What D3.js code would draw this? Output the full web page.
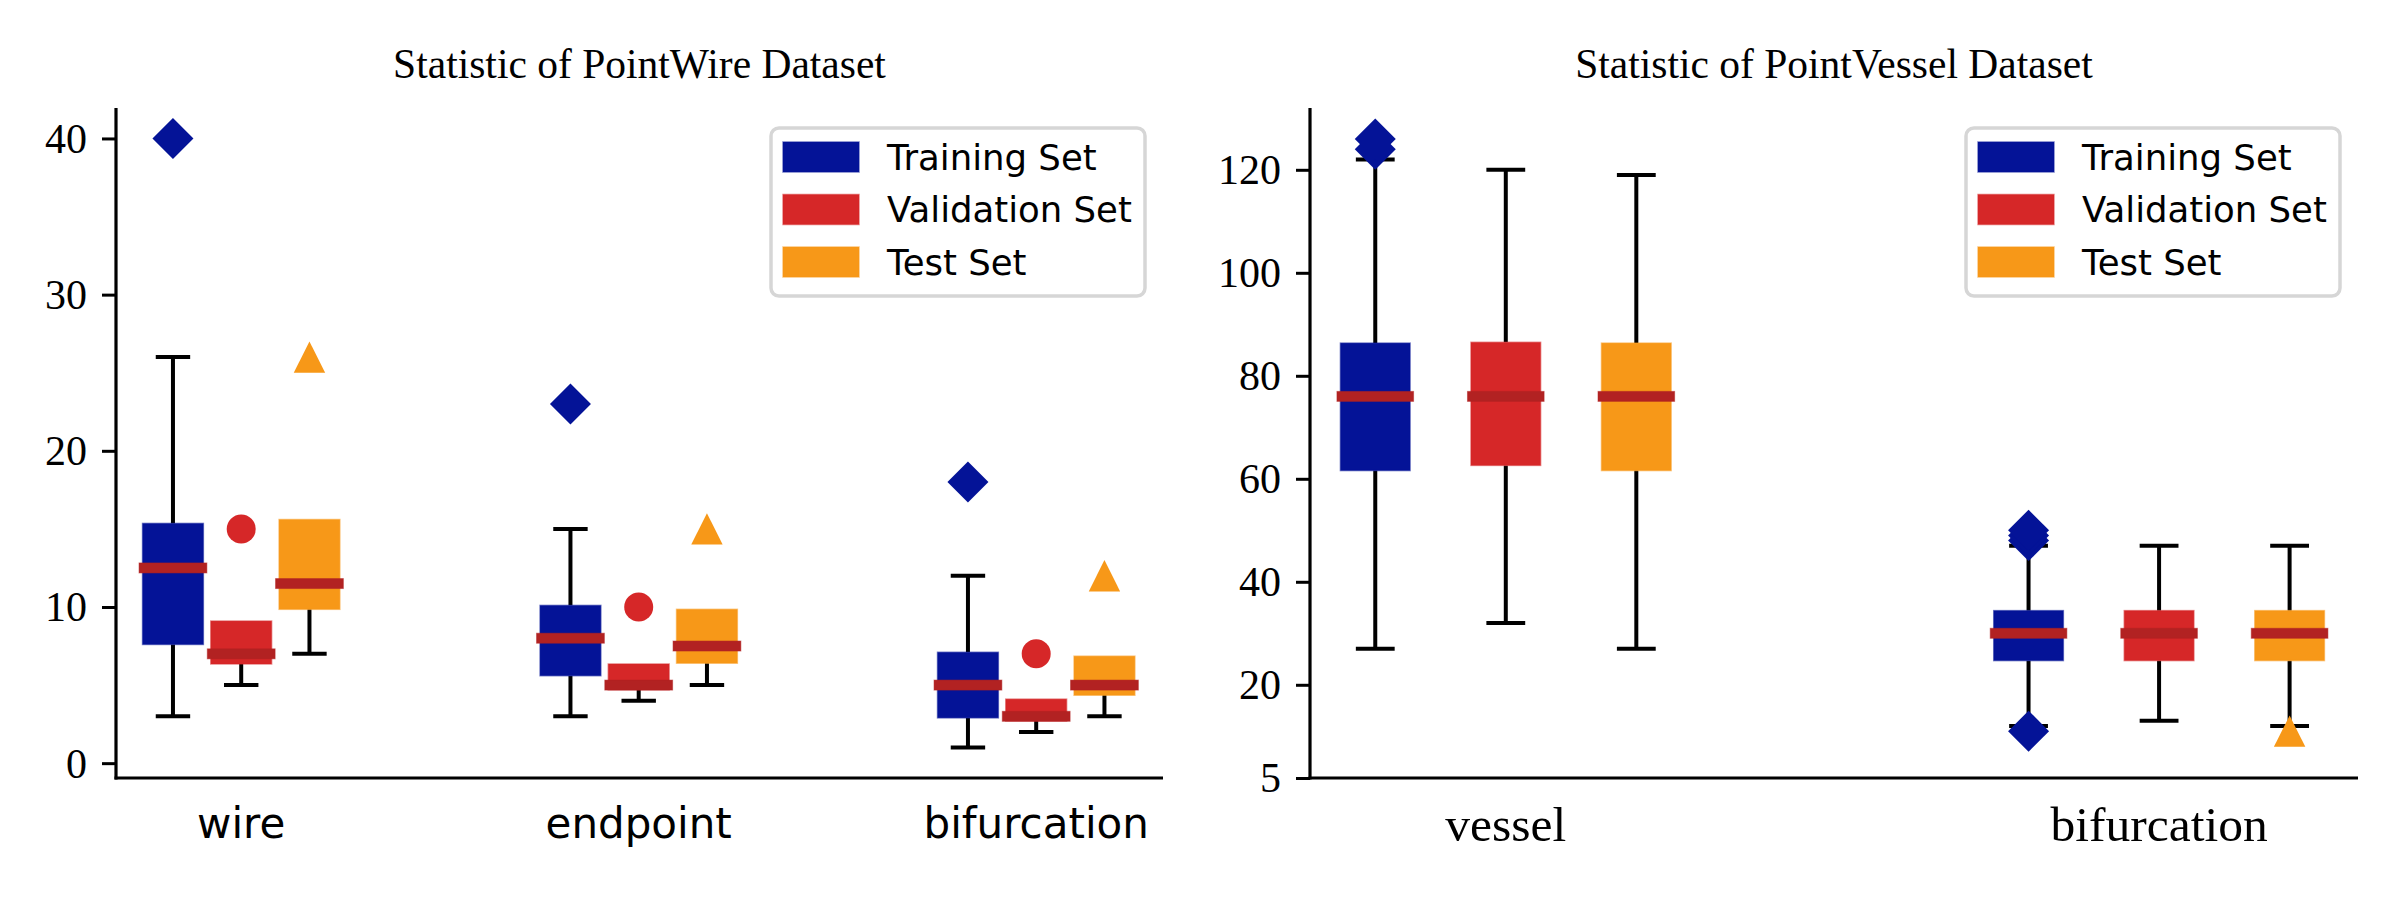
<!DOCTYPE html>
<html>
<head>
<meta charset="utf-8">
<script src="https://cdn.jsdelivr.net/npm/d3@7"></script>
<style>
  html, body { margin: 0; padding: 0; background: #fff; }
  svg { display: block; }
</style>
</head>
<body>
<svg id="chart" width="2400" height="900"></svg>
<script>
// ---------------- DATA ----------------
const seriesNames = ["Training Set", "Validation Set", "Test Set"];

// PointWire dataset: stats = [lowerWhisker, Q1, median, Q3, upperWhisker]
const wireCategories = ["wire", "endpoint", "bifurcation"];
const wireTrainStats = [[3, 7.6, 12.5, 15.35, 26], [3, 5.6, 8, 10.1, 15], [1, 2.9, 5, 7.1, 12]];
const wireValStats   = [[5, 6.35, 7, 9.1, 9.1], [4, 4.7, 5, 6.35, 6.35], [2, 2.7, 3, 4.1, 4.1]];
const wireTestStats  = [[7, 9.85, 11.5, 15.6, 15.6], [5, 6.4, 7.5, 9.85, 9.85], [3, 4.35, 5, 6.85, 6.85]];
const wireTrainOutliers = [[40], [23], [18]];
const wireValOutliers   = [[15], [10], [7]];
const wireTestOutliers  = [[26], [15], [12]];
const wireTickValues = [0, 10, 20, 30, 40];
const wireTickLabels = ["0", "10", "20", "30", "40"];
const wireDomain = [-0.95, 41.95];

// PointVessel dataset
const vesselCategories = ["vessel", "bifurcation"];
const vesselTrainStats = [[27, 61.6, 76, 86.35, 122], [12, 24.7, 30, 34.4, 47]];
const vesselValStats   = [[32, 62.6, 76, 86.5, 120], [13, 24.7, 30, 34.4, 47]];
const vesselTestStats  = [[27, 61.6, 76, 86.35, 119], [12, 24.7, 30, 34.4, 47]];
const vesselTrainOutliers = [[124, 126], [11, 48, 49, 50]];
const vesselValOutliers   = [[], []];
const vesselTestOutliers  = [[], [11]];
const vesselTickValues = [1.9, 20, 40, 60, 80, 100, 120];
const vesselTickLabels = ["5", "20", "40", "60", "80", "100", "120"];
const vesselDomain = [1.9, 132];

// ---------------- STYLE ----------------
const colors = ["#041397", "#d62728", "#f79818"];
const medianColor = "#b22222";
const markerTypes = ["diamond", "circle", "triangle"];
const serif = "'Liberation Serif', 'Times New Roman', serif";
const sans = "'DejaVu Sans', sans-serif";

const svg = d3.select("#chart");
svg.append("rect").attr("width", 2400).attr("height", 900).attr("fill", "#fff");

function drawPanel(cfg) {
  const g = svg.append("g");
  const y = d3.scaleLinear().domain(cfg.yDomain).range([cfg.bottom, cfg.top]);
  const x = d3.scaleLinear().domain(cfg.xDomain).range([cfg.left, cfg.right]);
  const groupPos = cfg.categories.map((c, i) => i);
  const series = [
    {stats: cfg.train, out: cfg.trainOut},
    {stats: cfg.val, out: cfg.valOut},
    {stats: cfg.test, out: cfg.testOut}
  ];
  const unit = x(1) - x(0);
  const bw = cfg.boxW * unit;
  const capW = bw * 0.5 + 4;

  // title
  g.append("text").attr("x", (cfg.left + cfg.right) / 2).attr("y", 78)
    .attr("text-anchor", "middle").attr("font-family", serif).attr("font-size", 41.5)
    .attr("fill", "#000").text(cfg.title);

  series.forEach((s, si) => {
    s.stats.forEach((st, ci) => {
      const cx = x(groupPos[ci] + (si - 1) * cfg.offset);
      const [lo, q1, med, q3, hi] = st;
      const wg = g.append("g");
      // whiskers
      if (lo < q1) {
        wg.append("line").attr("x1", cx).attr("x2", cx).attr("y1", y(q1)).attr("y2", y(lo))
          .attr("stroke", "#000").attr("stroke-width", 4);
        wg.append("line").attr("x1", cx - capW / 2).attr("x2", cx + capW / 2).attr("y1", y(lo)).attr("y2", y(lo))
          .attr("stroke", "#000").attr("stroke-width", 4);
      }
      if (hi > q3) {
        wg.append("line").attr("x1", cx).attr("x2", cx).attr("y1", y(q3)).attr("y2", y(hi))
          .attr("stroke", "#000").attr("stroke-width", 4);
        wg.append("line").attr("x1", cx - capW / 2).attr("x2", cx + capW / 2).attr("y1", y(hi)).attr("y2", y(hi))
          .attr("stroke", "#000").attr("stroke-width", 4);
      }
      // box
      g.append("rect").attr("x", cx - bw / 2).attr("y", y(q3)).attr("width", bw).attr("height", y(q1) - y(q3))
        .attr("fill", colors[si]).attr("stroke", colors[si]).attr("stroke-opacity", 0.55).attr("stroke-width", 1.5);
      // median
      g.append("rect").attr("x", cx - bw / 2 - 3.5).attr("y", y(med) - 5).attr("width", bw + 7).attr("height", 10)
        .attr("fill", medianColor).attr("stroke", medianColor).attr("stroke-opacity", 0.5).attr("stroke-width", 1);
      // outliers
      s.out[ci].forEach(v => {
        const py = y(v);
        if (markerTypes[si] === "diamond") {
          g.append("path").attr("d", `M${cx},${py - 20.5}L${cx + 20.5},${py}L${cx},${py + 20.5}L${cx - 20.5},${py}Z`)
            .attr("fill", colors[si]);
        } else if (markerTypes[si] === "circle") {
          g.append("circle").attr("cx", cx).attr("cy", py).attr("r", 14.5).attr("fill", colors[si]);
        } else {
          g.append("path").attr("d", `M${cx},${py - 15.7}L${cx + 15.7},${py + 15.7}L${cx - 15.7},${py + 15.7}Z`)
            .attr("fill", colors[si]);
        }
      });
    });
  });

  // category labels
  cfg.categories.forEach((c, i) => {
    g.append("text").attr("x", x(i)).attr("y", cfg.labelY).attr("text-anchor", "middle")
      .attr("font-family", cfg.labelFont).attr("font-size", cfg.labelSize).attr("fill", "#000").text(c);
  });

  // y axis
  const ya = g.append("g").attr("transform", `translate(${cfg.left},0)`)
    .call(d3.axisLeft(y).tickValues(cfg.tickValues).tickFormat((d, i) => cfg.tickLabels[i]).tickSize(14).tickPadding(15));
  ya.select(".domain").remove();
  ya.selectAll(".tick line").attr("stroke", "#000").attr("stroke-width", 3);
  ya.selectAll(".tick text").attr("font-family", serif).attr("font-size", 42).attr("fill", "#000").attr("dy", "0.33em");
  // spines
  g.append("line").attr("x1", cfg.left).attr("x2", cfg.left).attr("y1", cfg.top).attr("y2", cfg.bottom + 1.5)
    .attr("stroke", "#000").attr("stroke-width", 3.2);
  g.append("line").attr("x1", cfg.left - 1.5).attr("x2", cfg.right).attr("y1", cfg.bottom).attr("y2", cfg.bottom)
    .attr("stroke", "#000").attr("stroke-width", 3.2);

  // legend
  const lg = g.append("g");
  lg.append("rect").attr("x", cfg.legX).attr("y", 128).attr("width", 374).attr("height", 168).attr("rx", 8)
    .attr("fill", "#fff").attr("fill-opacity", 0.8).attr("stroke", "#d6d6d6").attr("stroke-width", 3.5);
  seriesNames.forEach((n, i) => {
    const cy = 157 + i * 52.5;
    lg.append("rect").attr("x", cfg.legX + 12).attr("y", cy - 15).attr("width", 76).attr("height", 30)
      .attr("fill", colors[i]).attr("stroke", colors[i]).attr("stroke-opacity", 0.55).attr("stroke-width", 1.5);
    lg.append("text").attr("x", cfg.legX + 116).attr("y", cy).attr("dy", "0.36em")
      .attr("font-family", sans).attr("font-size", 35.5).attr("fill", "#000").text(n);
  });
}

drawPanel({
  title: "Statistic of PointWire Dataset",
  categories: wireCategories,
  train: wireTrainStats, val: wireValStats, test: wireTestStats,
  trainOut: wireTrainOutliers, valOut: wireValOutliers, testOut: wireTestOutliers,
  yDomain: wireDomain, tickValues: wireTickValues, tickLabels: wireTickLabels,
  xDomain: [-0.315, 2.319],
  left: 116, right: 1163, top: 108, bottom: 778,
  offset: 0.1717, boxW: 0.153,
  labelY: 838, labelFont: sans, labelSize: 42,
  legX: 771
});

drawPanel({
  title: "Statistic of PointVessel Dataset",
  categories: vesselCategories,
  train: vesselTrainStats, val: vesselValStats, test: vesselTestStats,
  trainOut: vesselTrainOutliers, valOut: vesselValOutliers, testOut: vesselTestOutliers,
  yDomain: vesselDomain, tickValues: vesselTickValues, tickLabels: vesselTickLabels,
  xDomain: [-0.2997, 1.3045],
  left: 1310, right: 2358, top: 108, bottom: 778,
  offset: 0.1998, boxW: 0.1066,
  labelY: 841, labelFont: serif, labelSize: 49.5,
  legX: 1966
});
</script>
</body>
</html>
